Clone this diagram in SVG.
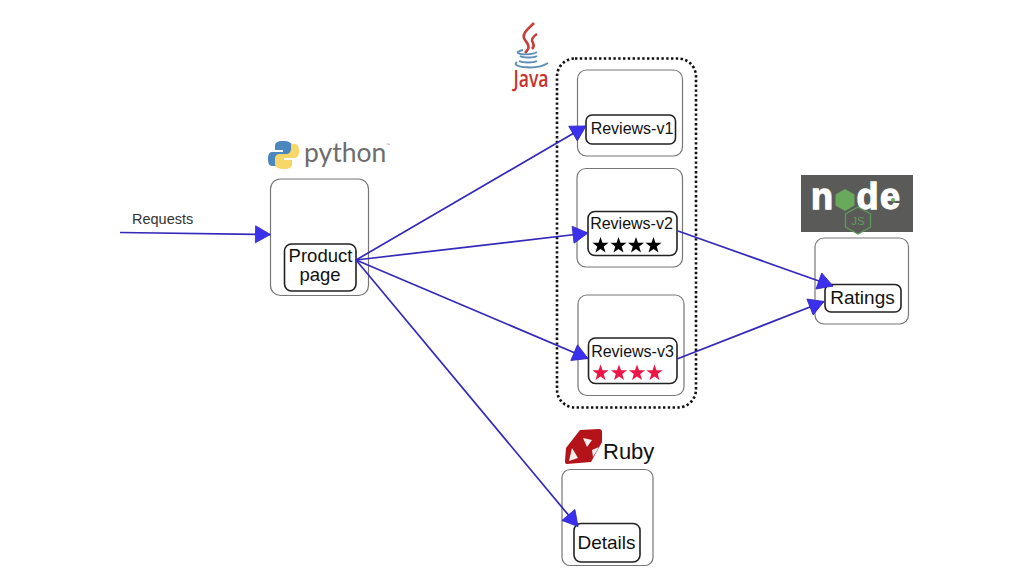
<svg xmlns="http://www.w3.org/2000/svg" width="1024" height="576" viewBox="0 0 1024 576">
<style>
text{font-family:"Liberation Sans",Arial,sans-serif;fill:#111}
.o{fill:#fff;stroke:#777;stroke-width:1.2}
.i{fill:#fff;stroke:#222;stroke-width:1.6}
.l{font-size:18.500px;text-anchor:middle}
.r{font-size:16px;text-anchor:middle}
.c{fill:none;stroke:#3329bb;stroke-width:1.700;marker-end:url(#a)}
.w{fill:#fff;stroke:#fff;stroke-width:1.300;font-weight:700;font-size:36px}
</style>
<defs>
<marker id="a" markerUnits="userSpaceOnUse" markerWidth="20" markerHeight="20" refX="16" refY="9.500" orient="auto"><path d="M1 1L16 9.500L1 18Z" fill="#3b30ee" stroke="#3329bb" stroke-width=".8"/></marker>
<path id="s" d="M0-8.500L2-2.750L8.080-2.630L3.230 1.050L5 6.880L0 3.400L-5 6.880L-3.230 1.050L-8.080-2.630L-2-2.750Z"/>
</defs>
<rect width="1024" height="576" fill="#fff"/>
<g id="group-reviews"><rect x="557" y="58.500" width="139" height="349" rx="18" fill="none" stroke="#111" stroke-width="2.600" stroke-dasharray="2.400 2.400"/></g>
<g id="logo-python">
<path d="M283 141c-6 0-8 2-8 5v4h8v2h-11c-3 0-4 3-4 7s1 7 4 7h4v-5c0-3 2-5 5-5h7c2 0 4-2 4-4v-6c0-3-3-5-9-5z" fill="#4b86bd"/>
<path d="M284 169c6 0 8-2 8-5v-4h-8v-2h11c3 0 4-3 4-7s-1-7-4-7h-4v5c0 3-2 5-5 5h-7c-2 0-4 2-4 4v6c0 3 3 5 9 5z" fill="#f8d668"/>
<text x="304" y="162" style="fill:#6d6d6d;font-family:Lato,'Liberation Sans',sans-serif;font-weight:400;font-size:26.500px">python</text>
<text x="386" y="146" style="fill:#888;font-size:4px">™</text>
</g>
<g id="logo-java" fill="none">
<path d="M534 23c-7 7-13 11-9 17 2 3 5 5 3 9-1 2-2 3-3 4M537 34c-5 3-6 6-4 9 1 2 1 4-1 6" stroke="#c5403c" stroke-width="2.600"/>
<path d="M523 50c-4 1-6 2-5 3 3 2 14 2 19-1M520 56c3 2 14 2 17 0M519 61c4 2 14 2 18 0M517 62c-3 2-1 4 6 5 9 1 19 0 25-4" stroke="#5e8db5" stroke-width="1.900"/>
<text x="513.500" y="87" style="fill:#c8322d;font-family:'Open Sans','Liberation Sans',sans-serif;font-weight:600;font-size:23px" textLength="35" lengthAdjust="spacingAndGlyphs">Java</text>
</g>
<g id="logo-node">
<rect x="801" y="175" width="112" height="57" fill="#5a5a58"/>
<text class="w" x="811" y="209">n</text>
<path d="M845 189l9.500 5.500v11l-9.500 5.500-9.500-5.500v-11z" fill="#69a95c"/>
<text class="w" x="856.500" y="209">d</text>
<text class="w" x="880" y="209">e</text>
<circle cx="893" cy="200" r="2" fill="#69a95c"/>
<path d="M858 207l12.500 7v13l-12.500 7-12.500-7v-13z" fill="#5a5a58" stroke="#5f9a5c" stroke-width="1.300"/>
<text x="858" y="225" style="fill:#5f9a5c;font-size:11.500px" text-anchor="middle">JS</text>
</g>
<g id="logo-ruby">
<path d="M580 430l19-1c2 0 3 1 3 3v10l-11 20-24 2c-2 0-2-2-2-3l1-13z" fill="#b5131a"/>
<path d="M572 448l6 10-9 3zM583 438l9 2-5 7zM592 450l7-3-6 10z" fill="#f7eeee"/>
<text x="603" y="459" style="font-size:22px">Ruby</text>
</g>
<g id="node-product"><rect class="o" x="270.500" y="179" width="98" height="116.500" rx="10"/><rect class="i" x="284.500" y="244" width="71.500" height="47" rx="7"/><text class="l" x="320.500" y="261.500">Product</text><text class="l" x="320" y="281">page</text></g>
<g id="node-reviews-v1"><rect class="o" x="577.500" y="70" width="105" height="86" rx="9"/><rect class="i" x="586" y="115" width="89.500" height="29" rx="6"/><text class="r" x="632" y="134">Reviews-v1</text></g>
<g id="node-reviews-v2"><rect class="o" x="577" y="168.500" width="105.500" height="98.500" rx="9"/><rect class="i" x="588" y="211.500" width="89" height="44" rx="7"/><text class="r" x="631.500" y="228.500">Reviews-v2</text><g><use href="#s" x="600.500" y="245.500"/><use href="#s" x="618.500" y="245.500"/><use href="#s" x="636" y="245.500"/><use href="#s" x="653.500" y="245.500"/></g></g>
<g id="node-reviews-v3"><rect class="o" x="578" y="295" width="106" height="100.500" rx="9"/><rect class="i" x="588.500" y="338" width="88.500" height="45.500" rx="7"/><text class="r" x="632.500" y="357">Reviews-v3</text><g fill="#ee1446"><use href="#s" x="600.500" y="373"/><use href="#s" x="619" y="373"/><use href="#s" x="637" y="373"/><use href="#s" x="654.500" y="373"/></g></g>
<g id="node-ratings"><rect class="o" x="815" y="238" width="93.500" height="86" rx="9"/><rect class="i" x="825" y="284.500" width="76" height="27.500" rx="6"/><text class="l" x="862.500" y="304" style="font-size:19px">Ratings</text></g>
<g id="node-details"><rect class="o" x="562" y="469.500" width="91" height="96" rx="8"/><rect class="i" x="574" y="523.500" width="66" height="38.500" rx="7"/><text class="l" x="606.500" y="549" style="font-size:19px">Details</text></g>
<g id="connectors">
<path class="c" d="M120 232.500L270.500 234.500"/>
<path class="c" d="M356 260L586 126"/>
<path class="c" d="M356 260L588 233"/>
<path class="c" d="M356 260L588 358.500"/>
<path class="c" d="M356 260L578 526.500"/>
<path class="c" d="M678 231L833 286"/>
<path class="c" d="M677 359L824 301.500"/>
</g>
<text x="132" y="224" style="font-size:14.500px;fill:#333">Requests</text>
</svg>
